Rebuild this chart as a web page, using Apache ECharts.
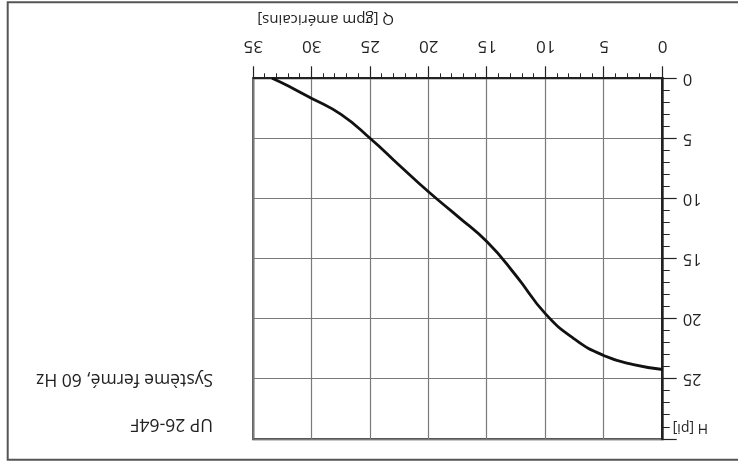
<!DOCTYPE html>
<html>
<head>
<meta charset="utf-8">
<script src="https://cdn.jsdelivr.net/npm/echarts@6/dist/echarts.min.js"></script>
<style>
html,body{margin:0;padding:0;background:#fff;}
#wrap{width:738px;height:461px;transform:rotate(180deg);transform-origin:50% 50%;}
#chart{width:738px;height:461px;}
</style>
</head>
<body>
<div id="wrap"><div id="chart"></div></div>
<script>
// Data (pump curve, Q in US gpm, H in ft)
const flowQ = [0, 2.5, 5, 7.5, 10, 12.5, 15, 17.5, 20, 22.5, 25, 27.5, 30, 32, 33.4];
const headH = [24.2, 23.8, 23.05, 21.7, 19.6, 16.45, 13.6, 11.5, 9.45, 7.25, 5.0, 3.0, 1.67, 0.65, 0];
const xTicks = [0, 5, 10, 15, 20, 25, 30, 35];
const yTicks = [0, 5, 10, 15, 20, 25];
const titleMain = 'UP 26-64F';
const titleSub = 'Système fermé, 60 Hz';
const xName = 'Q [gpm américains]';
const yName = 'H [pi]';

const FONT = 'Open Sans';
const dark = '#222';
const gridGray = '#7a7a7a';

const chart = echarts.init(document.getElementById('chart'), null, {renderer: 'canvas'});
const option = {
  animation: false,
  backgroundColor: '#fff',
  textStyle: {fontFamily: FONT},
  title: [
    {text: titleMain, left: 525, top: 28, padding: 0, textStyle: {fontFamily: FONT, fontSize: 17.5, fontWeight: 'normal', color: dark}},
    {text: titleSub, left: 525, top: 73, padding: 0, textStyle: {fontFamily: FONT, fontSize: 17.5, fontWeight: 'normal', color: dark}}
  ],
  graphic: [{
    type: 'rect', silent: true,
    shape: {x: -10, y: 1.3, width: 740.3, height: 457.5},
    style: {fill: 'none', stroke: '#555', lineWidth: 2}
  }],
  grid: {left: 75.3, top: 21.7, width: 409.4, height: 361, show: true, borderColor: dark, borderWidth: 2, containLabel: false},
  xAxis: {
    type: 'value', min: xTicks[0], max: xTicks[xTicks.length - 1], interval: 5,
    name: xName, nameLocation: 'end', nameGap: -4,
    nameTextStyle: {fontFamily: FONT, fontSize: 15, color: dark, align: 'right', verticalAlign: 'top', padding: [52, 0, 0, 0]},
    axisLine: {show: true, lineStyle: {color: dark, width: 2}},
    axisTick: {show: true, length: 12, lineStyle: {color: dark, width: 1.2}},
    minorTick: {show: true, splitNumber: 5, length: 5, lineStyle: {color: dark, width: 1}},
    splitLine: {show: true, lineStyle: {color: gridGray, width: 1.2}},
    axisLabel: {margin: 24, fontFamily: FONT, fontSize: 17, color: dark,
      formatter: v => xTicks.indexOf(v) >= 0 ? String(v) : ''}
  },
  yAxis: {
    type: 'value', min: 0, max: 30, interval: 5,
    name: yName, nameLocation: 'end', nameGap: -11,
    nameTextStyle: {fontFamily: FONT, fontSize: 14, color: dark, align: 'right', verticalAlign: 'middle', padding: [0, 10, 0, 0]},
    axisLine: {show: true, lineStyle: {color: dark, width: 2}},
    axisTick: {show: true, length: 14, lineStyle: {color: dark, width: 1.2}},
    minorTick: {show: true, splitNumber: 5, length: 7, lineStyle: {color: dark, width: 1}},
    splitLine: {show: true, lineStyle: {color: gridGray, width: 1.2}},
    axisLabel: {margin: 20, fontFamily: FONT, fontSize: 16.5, color: dark,
      formatter: v => yTicks.indexOf(v) >= 0 ? String(v) : ''}
  },
  series: [{
    type: 'line', smooth: 0.5, showSymbol: false,
    lineStyle: {color: '#111', width: 2.8},
    data: flowQ.map((q, i) => [q, headH[i]])
  }]
};
chart.setOption(option);
</script>
</body>
</html>
